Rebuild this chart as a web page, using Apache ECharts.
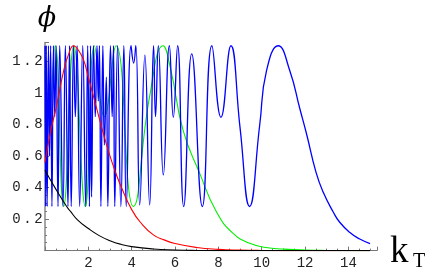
<!DOCTYPE html>
<html>
<head>
<meta charset="utf-8">
<script src="https://cdn.jsdelivr.net/npm/echarts@6/dist/echarts.min.js"></script>
<style>
html,body{margin:0;padding:0;background:#fff;}
#c{width:442px;height:273px;}
</style>
</head>
<body>
<div id="c"></div>
<script>
// ---- data ----
const xTicks = [2, 4, 6, 8, 10, 12, 14];
const yTicks = [0.2, 0.4, 0.6, 0.8, 1, 1.2];

const blackK = [0, 0.5, 1.0, 1.17, 1.5, 2.0, 2.5, 3.0, 3.5, 4.0, 5.0, 6.0, 7.0, 8.0, 10, 15];
const blackV = [0.51, 0.39, 0.28, 0.25, 0.195, 0.14, 0.095, 0.063, 0.04, 0.025, 0.01, 0.004, 0.001, 0, 0, 0];

const redK = [0, 0.25, 0.55, 0.86, 1.1, 1.32, 1.55, 1.78, 2.0, 2.35, 2.7, 3.0, 3.3, 3.5, 4.0, 4.4, 5.0, 5.5, 6.0, 7.0, 8.0, 9.0, 10, 12, 15];
const redV = [0.56, 0.75, 0.93, 1.14, 1.25, 1.30, 1.27, 1.21, 1.10, 0.92, 0.74, 0.60, 0.48, 0.41, 0.26, 0.18, 0.10, 0.068, 0.045, 0.02, 0.008, 0.003, 0.001, 0, 0];

const greenK = [0, 0.17, 0.47, 0.86, 1.33, 1.86, 2.28, 2.74, 3.28, 4.08, 4.83, 5.45, 5.8, 6.37, 7.14, 7.91, 8.68, 9.45, 10.2, 10.97, 12, 13, 15];
const greenV = [1.14, 0.85, 1.30, 0.28, 1.30, 0.28, 1.30, 0.85, 1.30, 0.28, 0.98, 1.30, 1.15, 0.765, 0.49, 0.246, 0.109, 0.046, 0.02, 0.01, 0.003, 0.001, 0];

const blueK = [0, 0.03, 0.06, 0.10, 0.16, 0.21, 0.26, 0.32, 0.39, 0.45, 0.51, 0.60, 0.68, 0.83, 0.94, 1.06, 1.13, 1.21, 1.32, 1.40, 1.48, 1.60, 1.74, 1.88, 1.97, 2.05, 2.10, 2.15, 2.24, 2.32, 2.40, 2.46, 2.51, 2.58, 2.67, 2.74, 2.83, 2.90, 3.02, 3.10, 3.16, 3.22, 3.35, 3.50, 3.64, 3.75, 3.97, 4.09, 4.19, 4.37, 4.61, 4.83, 5.01, 5.10, 5.23, 5.46, 5.74, 5.92, 6.12, 6.40, 6.77, 7.26, 7.70, 8.12, 8.58, 9.0, 9.44, 9.91, 10.22, 10.76, 11.3, 11.76, 12.07, 12.5, 12.84, 13.3, 13.6, 14.07, 14.5, 15.0];
const blueV = [1.30, 0.28, 1.30, 0.28, 1.30, 0.60, 1.30, 0.28, 1.30, 0.85, 1.30, 0.28, 1.30, 0.28, 1.30, 0.28, 1.30, 0.28, 1.30, 0.85, 1.30, 0.28, 1.30, 0.28, 1.30, 0.28, 1.30, 0.34, 1.30, 0.85, 1.30, 0.95, 1.30, 0.28, 1.30, 0.67, 1.10, 0.28, 1.30, 0.85, 1.30, 0.28, 1.30, 0.28, 1.30, 0.28, 1.30, 1.19, 1.30, 0.29, 1.24, 0.29, 1.30, 0.85, 1.30, 0.48, 1.30, 0.846, 1.30, 0.28, 1.248, 0.28, 1.30, 0.846, 1.30, 0.78, 0.28, 0.80, 1.14, 1.30, 1.14, 0.90, 0.74, 0.50, 0.37, 0.245, 0.18, 0.115, 0.075, 0.045];

function pairs(k, v) { return k.map((x, i) => [x, v[i]]); }

const mono = "'Liberation Mono', 'DejaVu Sans Mono', monospace";
const serif = "'Liberation Serif', 'DejaVu Serif', serif";
const chart = echarts.init(document.getElementById('c'), null, { renderer: 'canvas' });

function spaced(s) {
  return s.split('').map(ch => '{c|' + ch + '}').join('');
}

function line(name, k, v, color, w, z) {
  return {
    name, type: 'line', data: pairs(k, v), showSymbol: false, smooth: 0.5,
    lineStyle: { color, width: w }, z, animation: false, silent: true
  };
}

chart.setOption({
  animation: false,
  backgroundColor: '#fff',
  grid: { left: 45, top: 42.6, width: 332, height: 208, containLabel: false },
  xAxis: {
    type: 'value', min: 0, max: 15.32, interval: 2,
    axisLine: { show: true, lineStyle: { color: '#777', width: 1 } },
    axisTick: { show: true, inside: true, length: 4, lineStyle: { color: '#777' } },
    minorTick: { show: true, splitNumber: 4, length: 2, lineStyle: { color: '#777' } },
    splitLine: { show: false },
    axisLabel: {
      showMinLabel: false, showMaxLabel: false, margin: 6,
      fontFamily: mono, fontSize: 14, color: '#222',
      formatter: v => (xTicks.includes(Math.round(v)) ? String(Math.round(v)) : '')
    }
  },
  yAxis: {
    type: 'value', min: 0, max: 1.32, interval: 0.2,
    axisLine: { show: true, lineStyle: { color: '#888', width: 1.5 } },
    axisTick: { show: true, inside: true, length: 4, lineStyle: { color: '#777' } },
    minorTick: { show: true, splitNumber: 4, length: 2, lineStyle: { color: '#777' } },
    splitLine: { show: false },
    axisLabel: {
      showMinLabel: false, showMaxLabel: false, margin: 1,
      fontFamily: mono, fontSize: 14, color: '#222',
      formatter: v => {
        const r = Number(v.toFixed(1));
        if (!yTicks.includes(r)) return '';
        return spaced(String(r));
      },
      rich: { c: { fontFamily: mono, fontSize: 14, color: '#222', padding: [0, 1.3, 0, 1.3] } }
    }
  },
  graphic: [
    { type: 'text', x: 47, y: 19, style: { text: '\u03D5', font: "italic 27px 'DejaVu Serif', 'Liberation Serif', serif", fill: '#000', align: 'center', verticalAlign: 'middle' } },
    { type: 'text', x: 390, y: 252, style: { text: 'k', font: "37px " + serif, fill: '#000', align: 'left', verticalAlign: 'middle' } },
    { type: 'text', x: 413, y: 262, style: { text: 'T', font: "20px " + serif, fill: '#000', align: 'left', verticalAlign: 'middle' } }
  ],
  series: [
    line('green', greenK, greenV, '#00ee00', 1.1, 1),
    line('blue', blueK, blueV, '#0000ff', 1.3, 2),
    line('red', redK, redV, '#ff0000', 1.1, 3),
    line('black', blackK, blackV, '#000000', 1.1, 4)
  ]
});
</script>
</body>
</html>
